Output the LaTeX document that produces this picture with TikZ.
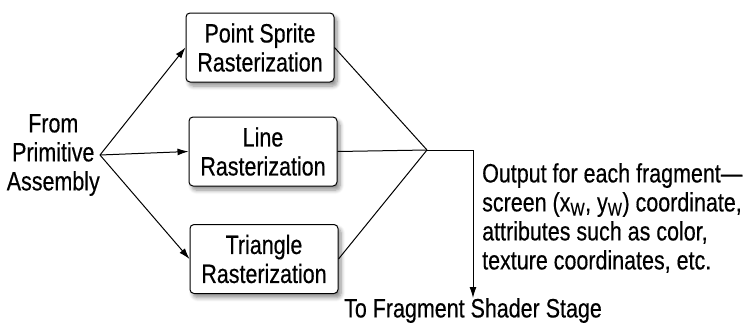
\documentclass[tikz,border=0pt]{standalone}
\usepackage{fontspec}
\setmainfont[FakeStretch=0.81, FakeBold=0.4]{Liberation Sans}
\usetikzlibrary{arrows.meta,shadows.blur}
\tikzset{
  box/.style={draw=black, line width=1pt, rounded corners=4pt, fill=white,
    minimum width=148pt, minimum height=69pt, inner sep=0pt, align=center,
    blur shadow={shadow xshift=3pt, shadow yshift=-4pt, shadow opacity=45, shadow blur steps=6, shadow blur radius=4pt}},
  lbl/.style={inner sep=0pt, align=center},
  conn/.style={line width=1pt},
  arr/.style={line width=1pt, -{Latex[length=11pt,width=7pt]}},
}
\begin{document}
\begin{tikzpicture}[x=1pt,y=-1pt, font=\fontsize{26.5}{29}\selectfont]
\useasboundingbox (0,0) rectangle (756,325);
\node[lbl, anchor=east] (src) at (100,155) {From\\Primitive\\Assembly};
\node[box] (ps) at (260,47.5) {Point Sprite\\Rasterization};
\node[box] (ln) at (263,151.5) {Line\\Rasterization};
\node[box] (tr) at (264,259) {Triangle\\Rasterization};
\coordinate (join) at (427,150);
\coordinate (corner) at (473,150);
\node[lbl, anchor=north] (dst) at (473,298) {To Fragment Shader Stage};
\node[lbl, anchor=north west, align=left] (out) at (482,163) {Output for each fragment—\\screen (x\textsubscript{W}, y\textsubscript{W}) coordinate,\\attributes such as color,\\texture coordinates, etc.};
\draw[arr] (src.east) -- (ps.west);
\draw[arr] (src.east) -- (ln.west);
\draw[arr] (src.east) -- (tr.west);
\draw[conn] (ps.east) -- (join);
\draw[conn] (ln.east) -- (join);
\draw[conn] (tr.east) -- (join);
\draw[arr] (join) -- (corner) -- (dst.north);
\end{tikzpicture}
\end{document}
